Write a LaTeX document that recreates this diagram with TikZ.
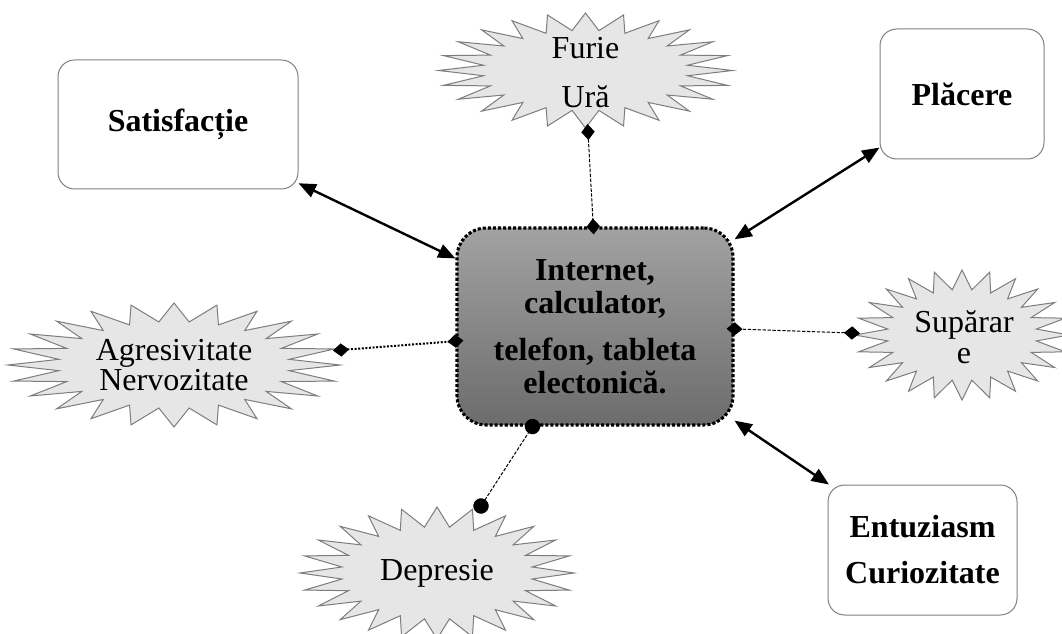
\documentclass[tikz,border=0pt]{standalone}
\usepackage{fontspec}
\setmainfont{Liberation Serif}
\usetikzlibrary{arrows.meta,shapes.geometric}
\definecolor{burstfill}{RGB}{230,230,230}
\definecolor{burstdraw}{RGB}{125,125,125}
\definecolor{boxdraw}{RGB}{128,128,128}
\definecolor{ctrtop}{RGB}{162,162,162}
\definecolor{ctrbot}{RGB}{108,108,108}
\newcommand\drawburst[4]{%
  \draw[burst] (#1,{#2-#4}) \foreach \k in {1,...,47}{
    -- ({#1+(1-0.3*mod(\k,2))*#3*sin(\k*7.5)},{#2-(1-0.3*mod(\k,2))*#4*cos(\k*7.5)})} -- cycle;}
\begin{document}
\begin{tikzpicture}[x=0.75pt,y=-0.75pt,
  box/.style={draw=boxdraw, line width=0.75pt, rounded corners=12.5pt, fill=white,
    align=center, inner sep=0pt, font=\bfseries\fontsize{24}{34.5}\selectfont},
  ctrbox/.style={draw=black, line width=2.3pt, dash pattern=on 2.3pt off 1.5pt,
    rounded corners=22pt, top color=ctrtop, bottom color=ctrbot,
    minimum width=207pt, minimum height=147.75pt, align=center, inner sep=0pt},
  burst/.style={draw=burstdraw, line width=0.75pt, fill=burstfill, line join=miter},
  bursttext/.style={align=center, inner sep=0pt, font=\fontsize{24}{24}\selectfont},
  biarrow/.style={line width=1.8pt, {Triangle[length=13pt,width=10.5pt]}-{Triangle[length=13pt,width=10.5pt]}},
  dialink/.style={line width=0.75pt, dash pattern=on 2.5pt off 1.2pt,
    {Diamond[length=12pt,width=10pt]}-{Diamond[length=12pt,width=10pt]},
    shorten >=-6pt, shorten <=-6pt},
  dotlink/.style={line width=1.5pt, dash pattern=on 1.5pt off 1.2pt,
    {Diamond[length=12pt,width=10pt]}-{Diamond[length=12pt,width=10pt]},
    shorten >=-6pt, shorten <=-6pt},
  cirlink/.style={line width=0.75pt, dash pattern=on 2.5pt off 1.2pt,
    {Circle[length=11.5pt]}-{Circle[length=11.5pt]},
    shorten >=-5.75pt, shorten <=-5.75pt}
]
\useasboundingbox (0,0) rectangle (1062,634);
\clip (0,0) rectangle (1062,634);

% boxes
\node[box, minimum width=180pt, minimum height=96.75pt] (sat) at (178,124.5) {Satisfacție};
\node[box, minimum width=123pt, minimum height=97.5pt] (pla) at (962,94) {Plăcere};
\node[box, minimum width=141.75pt, minimum height=97.5pt] (ent) at (922.5,550) {Entuziasm\\Curiozitate};

% center
\node[ctrbox] (ctr) at (595,326.5) {};
\node[align=center, inner sep=0pt, font=\bfseries\fontsize{24}{24.75}\selectfont] (ctrtxt) at (595,326.5)
  {Internet,\\calculator,\\[10.5pt]telefon, tableta\\electonică.};

% bursts
\drawburst{585.5}{70.5}{147}{57.5}
\node[bursttext, font=\fontsize{24}{36.75}\selectfont] (fur) at (585.5,72.5) {Furie\\Ură};
\drawburst{174}{365}{166}{62}
\node[bursttext, font=\fontsize{24}{22.5}\selectfont] (agr) at (174,365) {Agresivitate\\Nervozitate};
\drawburst{962}{335}{107}{65}
\node[bursttext, font=\fontsize{24}{23.25}\selectfont] (sup) at (964,337.5) {Supărar\\e};
\drawburst{437}{573}{137}{66}
\node[bursttext] (dep) at (437,573) {Depresie};

% link ends at the bursts
\coordinate (furP) at (588,132);
\coordinate (agrP) at (341,350);
\coordinate (supP) at (852,333);
\coordinate (depP) at (481,506);

% connectors
\draw[biarrow] (sat.-26) -- (ctr.154);
\draw[biarrow] (pla.-147) -- (ctr.32);
\draw[biarrow] (ent.145.5) -- (ctr.-34);
\draw[dialink] (furP) -- (ctr.91.7);
\draw[dotlink] (agrP) -- (ctr.-174.3);
\draw[dialink] (supP) -- (ctr.-1.5);
\draw[cirlink] (depP) -- (ctr.-122.5);
\end{tikzpicture}
\end{document}
